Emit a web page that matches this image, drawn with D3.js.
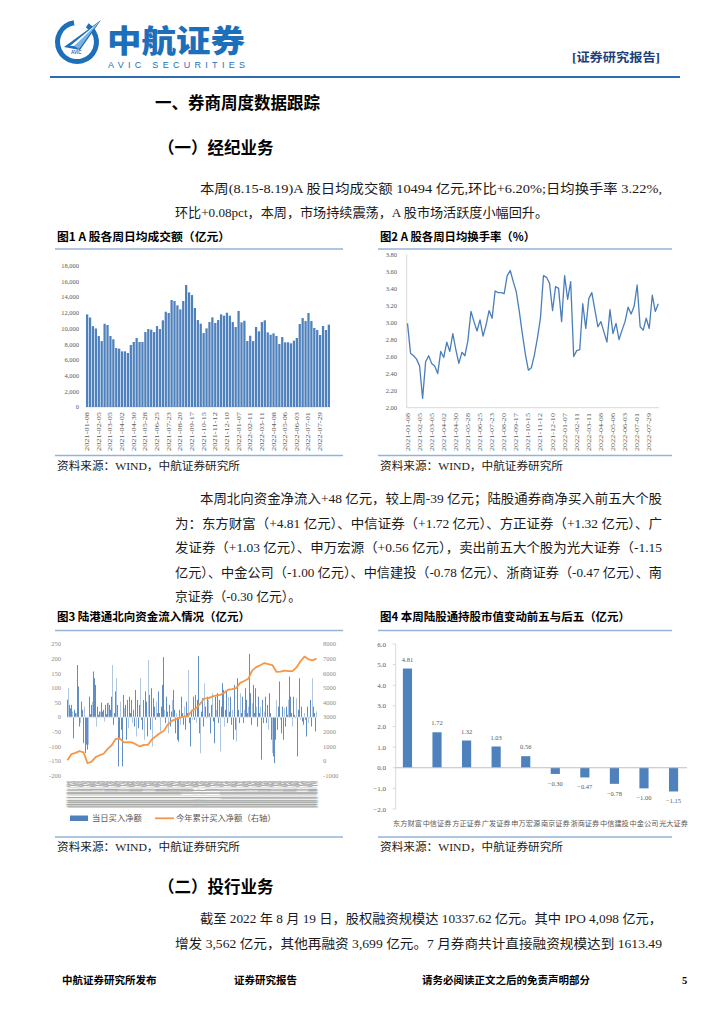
<!DOCTYPE html>
<html><head><meta charset="utf-8">
<script src="https://cdn.jsdelivr.net/npm/d3@7"></script>
<style>
html,body{margin:0;padding:0;background:#fff;}
svg{display:block;}
</style></head><body>
<svg id="page" width="724" height="1024"></svg>
<script>
// ---------- DATA ----------
const weekTickLabels = ["2021-01-08","2021-02-05","2021-03-05","2021-04-02","2021-04-30","2021-05-28","2021-06-25","2021-07-23","2021-08-20","2021-09-17","2021-10-15","2021-11-12","2021-12-10","2022-01-07","2022-02-11","2022-03-11","2022-04-08","2022-05-06","2022-06-03","2022-07-01","2022-07-29"];
// Fig.1 weekly average daily turnover (亿元), 84 weeks
const weeklyVolume = [11800,11400,10300,10000,9040,8400,10600,10440,9040,8620,
  7510,7430,7090,7090,6880,7900,8280,8790,8280,8280,
  9550,9930,9850,9550,10300,9930,11040,12140,11970,13630,
  13500,12950,12440,13500,15540,14600,14260,12610,11080,10610,
  9420,10020,10820,11420,10700,11080,11800,11630,12010,11630,
  10820,10190,12230,10780,10990,8400,9080,8400,10190,9640,
  10820,11040,9510,9210,9380,9040,8020,8910,8240,8240,
  8110,8450,8790,10570,11330,10950,11970,10950,10060,9810,
  9170,10320,9810,10494];
const volumeTicks = [0,2000,4000,6000,8000,10000,12000,14000,16000,18000];
// Fig.2 weekly average turnover rate (%)
const weeklyTurnover = [2.99,2.64,2.61,2.57,2.49,2.11,2.54,2.61,2.52,2.49,
  2.40,2.66,2.59,2.77,2.66,2.87,2.68,2.52,2.65,2.61,
  2.79,3.13,3.01,2.90,3.03,2.84,2.97,3.14,3.05,3.37,
  3.35,3.35,3.34,3.55,3.61,3.48,3.36,3.13,2.87,2.63,
  2.44,2.47,2.62,2.82,3.05,3.55,3.53,3.46,3.14,3.42,
  3.40,3.01,3.55,3.27,3.48,2.60,2.67,2.68,3.22,2.93,
  3.28,3.35,3.15,2.95,3.01,2.89,2.77,3.15,2.87,2.99,
  2.80,2.91,3.01,3.18,3.10,3.19,3.44,2.95,2.91,3.05,
  2.93,3.32,3.13,3.22];
const turnoverTicks = [2.0,2.2,2.4,2.6,2.8,3.0,3.2,3.4,3.6,3.8];
// Fig.3 northbound daily net buy (亿元)
const northDaily = [60,99,42,30,42,20,-72,25,14,14,178,105,-32,-20,53,25,-89,36,-123,-94,-111,-94,70,10,42,53,156,133,110,-32,36,8,19,19,50,19,25,-15,42,10,48,50,42,25,70,178,-26,14,88,133,42,-168,-77,53,-43,-168,76,31,42,-77,59,-38,70,14,59,-20,25,-32,93,-66,59,-38,42,133,-9,-43,59,-77,88,53,-66,195,76,-43,99,-100,65,36,-9,53,14,88,14,-49,36,110,205,25,-20,70,19,-55,42,-32,19,59,93,25,-55,14,-77,-83,25,-26,70,14,-26,36,-43,53,14,161,-20,-100,25,-9,70,-9,76,-20,59,209,-55,-123,19,65,-32,116,36,-3,70,59,14,-55,42,82,-15,-89,70,25,82,-20,59,-117,36,116,93,-32,25,93,-20,70,19,70,-26,25,-77,110,-43,-83,133,25,-20,82,14,70,-20,25,99,59,14,36,216,82,-26,48,110,14,99,36,-32,70,14,36,-145,59,-20,19,70,-20,42,-43,82,14,-77,-123,-134,-157,-77,59,-43,36,122,-9,-55,36,-77,31,-32,36,8,59,139,70,14,-32,70,8,-3,65,-134,25,133,-9,36,-15,-26,14,-9,-66,36,-20,-3,59,-32,133,36,14,-49,20];
// Fig.3 cumulative net buy (右轴), read every few trading days over the same span
const northCumulative = [50,480,560,680,590,-150,-40,270,400,500,830,1080,1500,1550,1273,1300,1273,1150,1000,1100,1100,1480,1690,1900,2080,2500,2750,2870,2970,3046,3080,3450,3595,3900,4280,4280,4400,4480,4520,4670,4880,4910,4990,5340,5470,5620,6200,6420,6550,6700,6630,6560,6100,6110,6180,6140,6150,6400,6820,7140,6955,6880,7000];
const northLeftTicks = [-200,-150,-100,-50,0,50,100,150,200,250];
const northRightTicks = [-1000,0,1000,2000,3000,4000,5000,6000,7000,8000];
// Fig.4 weekly change of holdings (亿元)
const brokers = ["东方财富","中信证券","方正证券","广发证券","申万宏源","南京证券","浙商证券","中信建投","中金公司","光大证券"];
const holdingChange = [4.81,1.72,1.32,1.03,0.56,-0.30,-0.47,-0.78,-1.00,-1.15];
const changeTicks = [-2,-1,0,1,2,3,4,5,6];

// ---------- STYLE ----------
const CJK = "'Noto Sans CJK SC','Noto Sans',sans-serif";
const SERIF = "'Liberation Serif','Noto Sans CJK SC',serif";
const BODY = "'Liberation Serif','Noto Sans CJK SC',serif";
const BLUE = "#4F81BD", AXIS = "#595959", GRID = "#D9D9D9", SEP = "#95B3D7";

const svg = d3.select("#page");

function text(g, str, x, y, o = {}) {
  const t = g.append("text").attr("x", x).attr("y", y).text(str)
    .attr("font-family", o.family || BODY)
    .attr("font-size", o.size || 13)
    .attr("fill", o.fill || "#1a1a1a");
  if (o.weight) t.attr("font-weight", o.weight);
  if (o.anchor) t.attr("text-anchor", o.anchor);
  if (o.width) t.attr("textLength", o.width).attr("lengthAdjust", o.adjust || "spacingAndGlyphs");
  if (o.ls) t.attr("letter-spacing", o.ls);
  return t;
}

// ---------- HEADER ----------
const hdr = svg.append("g");
hdr.append("path")
  .attr("d", d3.arc()({innerRadius: 17, outerRadius: 22, startAngle: 0.55, endAngle: 2 * Math.PI - 0.15}))
  .attr("transform", "translate(77,42)").attr("fill", "#1E6FBA");
hdr.append("path").attr("d", "M64,47 L101,20 L80,50 Z").attr("fill", "#1E6FBA");
hdr.append("path").attr("d", "M70,46 L99,22 L78,46 Z").attr("fill", "#fff");
hdr.append("path").attr("d", "M74,46 L97,24 L79,49 Z").attr("fill", "#7FB2E0");
text(hdr, "AVIC", 71, 54, {family: "'Liberation Sans',sans-serif", size: 4.5, fill: "#1E6FBA", weight: "bold"});
text(hdr, "中航证券", 107, 52, {family: CJK, size: 31, weight: 900, fill: "#1E6FBA", width: 138});
text(hdr, "AVIC SECURITIES", 108, 68, {family: "'Liberation Sans',sans-serif", size: 9, fill: "#1E6FBA", width: 137, adjust: "spacing"});
text(hdr, "[证券研究报告]", 572, 62, {family: SERIF, size: 12.5, weight: "bold", fill: "#1F3F7A", width: 88});
hdr.append("line").attr("x1", 50).attr("x2", 680).attr("y1", 77).attr("y2", 77)
  .attr("stroke", "#2E6DB4").attr("stroke-width", 2);

// ---------- BODY TEXT ----------
const body = svg.append("g");
text(body, "一、券商周度数据跟踪", 155, 109, {family: CJK, size: 16.5, weight: "bold", fill: "#000"});
text(body, "（一）经纪业务", 158, 154, {family: CJK, size: 16.5, weight: "bold", fill: "#000"});
text(body, "本周(8.15-8.19)A 股日均成交额 10494 亿元,环比+6.20%;日均换手率 3.22%,", 200, 192.5, {width: 462});
text(body, "环比+0.08pct，本周，市场持续震荡，A 股市场活跃度小幅回升。", 175, 216.5, {width: 373});

text(body, "本周北向资金净流入+48 亿元，较上周-39 亿元；陆股通券商净买入前五大个股", 200, 502.5, {width: 462});
text(body, "为：东方财富（+4.81 亿元）、中信证券（+1.72 亿元）、方正证券（+1.32 亿元）、广", 175, 527.5, {width: 487});
text(body, "发证券（+1.03 亿元）、申万宏源（+0.56 亿元），卖出前五大个股为光大证券（-1.15", 175, 551.5, {width: 487});
text(body, "亿元）、中金公司（-1.00 亿元）、中信建投（-0.78 亿元）、浙商证券（-0.47 亿元）、南", 175, 576.5, {width: 487});
text(body, "京证券（-0.30 亿元）。", 175, 600.5, {width: 126});

text(body, "（二）投行业务", 158, 893, {family: CJK, size: 16.5, weight: "bold", fill: "#000"});
text(body, "截至 2022 年 8 月 19 日，股权融资规模达 10337.62 亿元。其中 IPO 4,098 亿元，", 200, 922.5, {width: 462});
text(body, "增发 3,562 亿元，其他再融资 3,699 亿元。7 月券商共计直接融资规模达到 1613.49", 175, 947.5, {width: 487});

text(body, "中航证券研究所发布", 62, 984, {family: CJK, size: 10.5, weight: "bold", fill: "#000"});
text(body, "证券研究报告", 234, 984, {family: CJK, size: 10.5, weight: "bold", fill: "#000"});
text(body, "请务必阅读正文之后的免责声明部分", 422, 984, {family: CJK, size: 10.5, weight: "bold", fill: "#000"});
text(body, "5", 682, 984, {family: SERIF, size: 10.5, weight: "bold", fill: "#000"});

// ---------- CHART FRAMES ----------
function frame(x0, x1, yTitle, ySep, yBottom, title, titleW) {
  text(svg, title, x0 + 2, yTitle, {family: CJK, size: 11.5, weight: "bold", fill: "#000", width: titleW});
  svg.append("line").attr("x1", x0).attr("x2", x1).attr("y1", ySep).attr("y2", ySep).attr("stroke", SEP).attr("stroke-width", 1.5);
  svg.append("line").attr("x1", x0).attr("x2", x1).attr("y1", yBottom).attr("y2", yBottom).attr("stroke", SEP).attr("stroke-width", 1.5);
  text(svg, "资料来源：WIND，中航证券研究所", x0 + 2, yBottom + 14, {family: BODY, size: 11, fill: "#1a1a1a", width: 183});
}
frame(55, 343, 240.5, 249, 455.5, "图1  A 股各周日均成交额（亿元）", 173);
frame(378, 672, 240.5, 249, 455.5, "图2  A 股各周日均换手率（%）", 155);
frame(55, 343, 621, 630.5, 837, "图3  陆港通北向资金流入情况（亿元）", 193);
frame(378, 672, 621, 630.5, 837, "图4  本周陆股通持股市值变动前五与后五（亿元）", 250);

// ---------- FIG 1 ----------
{
  const g = svg.append("g");
  const x = d3.scaleBand().domain(d3.range(weeklyVolume.length)).range([86, 330]).paddingInner(0.22);
  const y = d3.scaleLinear().domain([0, 18000]).range([407, 265.7]);
  g.append("line").attr("x1", 86).attr("x2", 330).attr("y1", y(0)).attr("y2", y(0)).attr("stroke", GRID);
  g.selectAll("rect").data(weeklyVolume).join("rect")
    .attr("x", (d, i) => x(i)).attr("width", x.bandwidth())
    .attr("y", d => y(d)).attr("height", d => y(0) - y(d)).attr("fill", BLUE);
  volumeTicks.forEach(t => text(g, d3.format(",")(t), 79, y(t) + 2.3, {family: SERIF, size: 6.5, fill: AXIS, anchor: "end"}));
  weekTickLabels.forEach((lab, k) => {
    const cx = x(k * 4) + x.bandwidth() / 2;
    g.append("text").attr("transform", `translate(${cx + 2},412) rotate(-90)`)
      .attr("text-anchor", "end").attr("font-family", SERIF).attr("font-size", 6.2).attr("fill", AXIS)
      .attr("textLength", 39).attr("lengthAdjust", "spacingAndGlyphs").text(lab);
  });
}

// ---------- FIG 2 ----------
{
  const g = svg.append("g");
  const x = d3.scalePoint().domain(d3.range(weeklyTurnover.length)).range([407.5, 658.3]);
  const y = d3.scaleLinear().domain([2.0, 3.8]).range([407.7, 254.3]);
  g.append("line").attr("x1", 406.7).attr("x2", 406.7).attr("y1", 254.3).attr("y2", 407.7).attr("stroke", GRID);
  g.append("line").attr("x1", 406.7).attr("x2", 659).attr("y1", 407.7).attr("y2", 407.7).attr("stroke", GRID);
  turnoverTicks.forEach(t => text(g, d3.format(".2f")(t), 397, y(t) + 2.3, {family: SERIF, size: 6.5, fill: AXIS, anchor: "end"}));
  g.append("path").datum(weeklyTurnover)
    .attr("d", d3.line().x((d, i) => x(i)).y(d => y(d)))
    .attr("fill", "none").attr("stroke", "#4A7EBB").attr("stroke-width", 1.3).attr("stroke-linejoin", "round");
  weekTickLabels.forEach((lab, k) => {
    const cx = x(k * 4);
    g.append("text").attr("transform", `translate(${cx + 2},413) rotate(-90)`)
      .attr("text-anchor", "end").attr("font-family", SERIF).attr("font-size", 6.2).attr("fill", AXIS)
      .attr("textLength", 38).attr("lengthAdjust", "spacingAndGlyphs").text(lab);
  });
}

// ---------- FIG 3 ----------
{
  const g = svg.append("g");
  const n = northDaily.length;
  const x = d3.scaleBand().domain(d3.range(n)).range([67, 317]).paddingInner(0.1);
  const yL = d3.scaleLinear().domain([-200, 250]).range([775.7, 644]);
  const yR = d3.scaleLinear().domain([-1000, 8000]).range([775.7, 644]);
  g.selectAll("rect").data(northDaily).join("rect")
    .attr("x", (d, i) => x(i)).attr("width", x.bandwidth())
    .attr("y", d => d >= 0 ? yL(d) : yL(0)).attr("height", d => Math.abs(yL(0) - yL(d)))
    .attr("fill", BLUE).attr("opacity", (d, i) => (i % 4 === 1 ? 0.5 : 1));
  g.append("line").attr("x1", 67).attr("x2", 317).attr("y1", yL(0)).attr("y2", yL(0)).attr("stroke", "#E6E6E6").attr("stroke-width", 0.8);
  const xc = d3.scaleLinear().domain([0, northCumulative.length - 1]).range([x(0) + x.bandwidth() / 2, x(n - 1) + x.bandwidth() / 2]);
  g.append("path").datum(northCumulative)
    .attr("d", d3.line().x((d, i) => xc(i)).y(d => yR(d)))
    .attr("fill", "none").attr("stroke", "#F79646").attr("stroke-width", 1.8).attr("stroke-linejoin", "round");
  northLeftTicks.forEach(t => text(g, String(t), 61, yL(t) + 2.3, {family: SERIF, size: 6.5, fill: "#8C8C8C", anchor: "end"}));
  northRightTicks.forEach(t => text(g, String(t), 323, yR(t) + 2.3, {family: SERIF, size: 6.5, fill: "#8C8C8C"}));
  const days = d3.utcDay.range(new Date(Date.UTC(2021, 0, 4)), new Date(Date.UTC(2022, 7, 20)))
    .filter(d => d.getUTCDay() > 0 && d.getUTCDay() < 6);
  const fmt = d3.utcFormat("%Y-%m-%d");
  d3.range(n).forEach(i => {
    const d = days[Math.round(i * (days.length - 1) / (n - 1))];
    g.append("text").attr("transform", `translate(${x(i) + 1.5},781) rotate(-90)`)
      .attr("text-anchor", "end").attr("font-family", SERIF).attr("font-size", 4).attr("fill", "#A0A0A0")
      .attr("textLength", 27).attr("lengthAdjust", "spacingAndGlyphs").text(fmt(d));
  });
  g.append("rect").attr("x", 70).attr("y", 815.5).attr("width", 18).attr("height", 5.5).attr("fill", BLUE);
  text(g, "当日买入净额", 92, 821, {family: CJK, size: 8.3, fill: AXIS});
  g.append("line").attr("x1", 155).attr("x2", 174).attr("y1", 818.3).attr("y2", 818.3).attr("stroke", "#F79646").attr("stroke-width", 1.8);
  text(g, "今年累计买入净额（右轴）", 176, 821, {family: CJK, size: 8.3, fill: AXIS});
}

// ---------- FIG 4 ----------
{
  svg.append("clipPath").attr("id", "c4").append("rect").attr("x", 373).attr("y", 630).attr("width", 320).attr("height", 200);
  const g = svg.append("g").attr("clip-path", "url(#c4)");
  const x = d3.scaleBand().domain(brokers).range([394, 687]).paddingInner(0.69).paddingOuter(0.3);
  const y = d3.scaleLinear().domain([-2, 6]).range([809, 644]);
  g.append("line").attr("x1", 395.7).attr("x2", 395.7).attr("y1", 644).attr("y2", 809).attr("stroke", GRID);
  changeTicks.forEach(t => {
    g.append("line").attr("x1", 392.7).attr("x2", 395.7).attr("y1", y(t)).attr("y2", y(t)).attr("stroke", GRID);
    text(g, d3.format(".1f")(t), 386, y(t) + 2.5, {family: SERIF, size: 7, fill: AXIS, anchor: "end"});
  });
  g.selectAll("rect").data(holdingChange).join("rect")
    .attr("x", (d, i) => x(brokers[i])).attr("width", x.bandwidth())
    .attr("y", d => d >= 0 ? y(d) : y(0)).attr("height", d => Math.abs(y(0) - y(d)))
    .attr("fill", BLUE);
  g.append("line").attr("x1", 395.7).attr("x2", 687).attr("y1", y(0)).attr("y2", y(0)).attr("stroke", "#BFBFBF");
  holdingChange.forEach((d, i) => {
    const cx = x(brokers[i]) + x.bandwidth() / 2;
    text(g, d3.format(".2f")(d), cx, d >= 0 ? y(d) - 7 : y(d) + 12, {family: SERIF, size: 6.5, fill: AXIS, anchor: "middle"});
    text(g, brokers[i], cx, 826, {family: CJK, size: 7.2, fill: AXIS, anchor: "middle"});
  });
}
</script>
</body></html>
